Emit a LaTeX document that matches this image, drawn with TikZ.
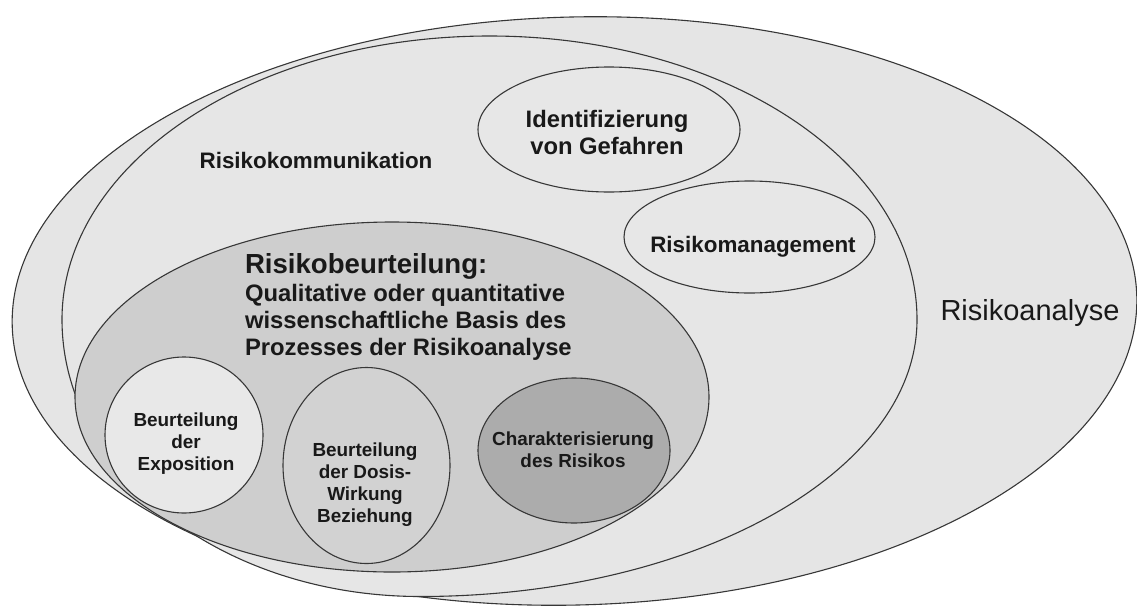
\documentclass[tikz,border=0pt]{standalone}
\usepackage{fontspec}
\setmainfont{Liberation Sans}
\usetikzlibrary{shapes.geometric}
\definecolor{outerfill}{RGB}{229,229,229}
\definecolor{commfill}{RGB}{230,230,230}
\definecolor{subfill}{RGB}{231,231,231}
\definecolor{assessfill}{RGB}{206,206,206}
\definecolor{expofill}{RGB}{232,232,232}
\definecolor{dosefill}{RGB}{210,210,210}
\definecolor{charfill}{RGB}{172,172,172}
\definecolor{edge}{RGB}{55,55,55}
\definecolor{ink}{RGB}{25,25,25}
\begin{document}
\begin{tikzpicture}[x=1pt,y=-1pt,
  region/.style={ellipse, draw=edge, line width=1.1pt, inner sep=0pt, outer sep=0pt},
  outline/.style={draw=edge, line width=1.1pt},
  lbl/.style={inner sep=0pt, outer sep=0pt, text=ink, align=center},
  bigb/.style={font=\fontsize{27.6}{30}\selectfont\bfseries},
  medb/.style={font=\fontsize{23.8}{27.2}\selectfont\bfseries},
  midb/.style={font=\fontsize{22.4}{26}\selectfont\bfseries},
  smallb/.style={font=\fontsize{18.9}{21.8}\selectfont\bfseries}
]
\useasboundingbox (0,0) rectangle (1137,608);
% regions
\node[region, fill=outerfill, rotate=1.5, minimum width=1125pt, minimum height=588pt] (analyse) at (574.5,311) {};
\coordinate (kommwest) at (62,319.5);
\draw[outline, fill=commfill] (kommwest)
  arc[start angle=180, end angle=360, x radius=427.5, y radius=283.5]
  arc[start angle=0, end angle=90, x radius=497, y radius=277]
  arc[start angle=90, end angle=180, x radius=358, y radius=277] -- cycle;
\node[region, fill=subfill, minimum width=262pt, minimum height=125pt] (ident) at (609,129.5) {};
\node[region, fill=subfill, minimum width=251pt, minimum height=112pt] (mgmt) at (749.5,237) {};
\node[region, fill=assessfill, minimum width=634pt, minimum height=350pt] (beurt) at (392,397) {};
\node[region, fill=expofill, minimum width=158pt, minimum height=156pt] (expo) at (184,435) {};
\node[region, fill=dosefill, minimum width=167pt, minimum height=196pt] (dosis) at (366.5,465.5) {};
\node[region, fill=charfill, minimum width=192pt, minimum height=145pt] (charak) at (574,450.5) {};
% labels
\node[lbl, anchor=base, font=\fontsize{29}{32}\selectfont] (tanalyse) at (1030,320) {Risikoanalyse};
\node[lbl, anchor=base, midb] (tkomm) at (316,168) {Risikokommunikation};
\node[lbl, anchor=north, medb] (tident) at (607,110) {Identifizierung\\von Gefahren};
\node[lbl, anchor=base, midb] (tmgmt) at (753,252) {Risikomanagement};
\node[lbl, anchor=base west, bigb] (tbeurt) at (245,273) {Risikobeurteilung:};
\node[lbl, anchor=north west, medb, align=left] (tbasis) at (245,284) {Qualitative oder quantitative\\wissenschaftliche Basis des\\Prozesses der Risikoanalyse};
\node[lbl, anchor=north, smallb] (texpo) at (186,413) {Beurteilung\\der\\Exposition};
\node[lbl, anchor=north, smallb] (tdosis) at (365,443) {Beurteilung\\der Dosis-\\Wirkung\\Beziehung};
\node[lbl, anchor=north, smallb] (tcharak) at (573,431.5) {Charakterisierung\\des Risikos};
\end{tikzpicture}
\end{document}
